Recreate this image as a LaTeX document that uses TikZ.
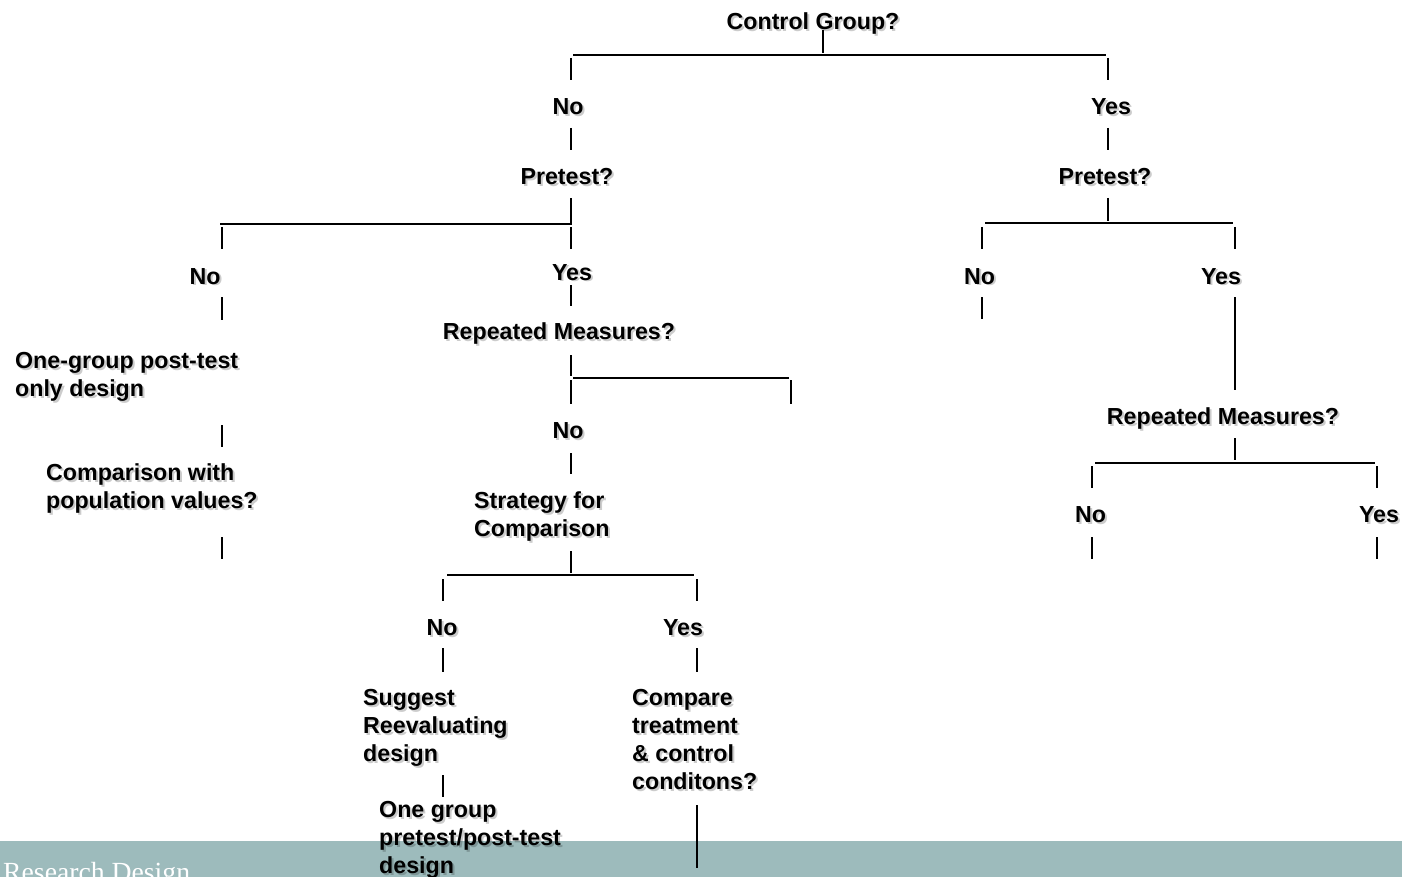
\documentclass[tikz,border=0pt]{standalone}
\usepackage{fontspec}
\setmainfont{Liberation Sans}
\newfontfamily\footerfont{Liberation Serif}
% stacked lines, baseline at the first line
\newcommand\rows[1]{\begin{tabular}[t]{@{}l@{}}#1\end{tabular}}
\tikzset{
  lbl/.style={font=\bfseries\fontsize{23.2}{28}\selectfont, inner sep=0pt, text=black},
  lblshadow/.style={lbl, opacity=0.2},
  rule/.style={line width=2.6pt, black},
}
% label with a soft drop shadow: name, anchor, x/y, text
\newcommand\lbl[4]{%
  \node[lblshadow, anchor=#2] at ([shift={(2,2)}]#3) {#4};
  \node[lbl, anchor=#2] (#1) at (#3) {#4};}
% vertical tick: x, top y, bottom y
\newcommand\vtick[3]{\draw[rule] (#1,#2) -- (#1,#3);}
\begin{document}
\begin{tikzpicture}[x=1pt, y=-1pt]
\useasboundingbox (0,0) rectangle (1402,877);

% footer band
\fill[fill={rgb,255:red,157;green,187;blue,188}] (0,841) rectangle (1402,877);
\node[font=\footerfont\fontsize{27.7}{30}\selectfont, text=white, anchor=base west, inner sep=0pt]
  (footer) at (3,881) {Research Design};

% ---- labels ----
\lbl{cg}{base}{813,30}{Control Group?}
\lbl{cgNo}{base}{568,115}{No}
\lbl{cgYes}{base}{1111,115}{Yes}
\lbl{ptA}{base}{567,185}{Pretest?}
\lbl{ptB}{base}{1105,185}{Pretest?}
\lbl{ptANo}{base}{205,284}{No}
\lbl{ptAYes}{base}{572,280}{Yes}
\lbl{ptBNo}{base}{979.5,284}{No}
\lbl{ptBYes}{base}{1221,284}{Yes}
\lbl{postonly}{base west}{15,368}{\rows{One-group post-test\\only design}}
\lbl{popcmp}{base west}{46,480}{\rows{Comparison with\\population values?}}
\lbl{rmA}{base}{559,339}{Repeated Measures?}
\lbl{rmANo}{base}{568,438}{No}
\lbl{strat}{base west}{474,508}{\rows{Strategy for\\Comparison}}
\lbl{stNo}{base}{442,635}{No}
\lbl{stYes}{base}{683,635}{Yes}
\lbl{reeval}{base west}{363,705}{\rows{Suggest\\Reevaluating\\design}}
\lbl{compare}{base west}{632,705}{\rows{Compare\\treatment\\\& control\\conditons?}}
\lbl{prepost}{base west}{379,817}{\rows{One group\\pretest/post-test\\design}}
\lbl{rmB}{base}{1223,424}{Repeated Measures?}
\lbl{rmBNo}{base}{1090.5,522}{No}
\lbl{rmBYes}{base}{1379,522}{Yes}

% ---- branch bars ----
\draw[rule] (823,30) -- (823,53);
\draw[rule] (573,55) -- (1106,55);
\draw[rule] (220,224) -- (571,224) -- (571,198);
\draw[rule] (985,223) -- (1233,223);
\draw[rule] (1108,198) -- (1108,221);
\draw[rule] (573,378) -- (789,378);
\draw[rule] (1095,463) -- (1375,463);
\draw[rule] (1235,438) -- (1235,460);
\draw[rule] (447,575) -- (694,575);
\draw[rule] (571,551) -- (571,573);

% ---- ticks ----
\vtick{571}{58}{80}   \vtick{571}{128}{150}
\vtick{1108}{58}{80}  \vtick{1108}{128}{150}
\vtick{222}{227}{249} \vtick{222}{297}{320}
\vtick{222}{425}{447} \vtick{222}{537}{559}
\vtick{571}{227}{249} \vtick{571}{285}{306}
\vtick{571}{355}{376} \vtick{571}{380}{404}
\vtick{571}{453}{474}
\vtick{791}{380}{404}
\vtick{982}{227}{249}  \vtick{982}{297}{319}
\vtick{1235}{227}{249} \vtick{1235}{297}{390}
\vtick{1092}{466}{488} \vtick{1092}{537}{559}
\vtick{1377}{466}{488} \vtick{1377}{537}{559}
\vtick{443}{579}{601}  \vtick{443}{648}{672} \vtick{443}{775}{797}
\vtick{697}{579}{601}  \vtick{697}{648}{672} \vtick{697}{805}{868}
\end{tikzpicture}
\end{document}
